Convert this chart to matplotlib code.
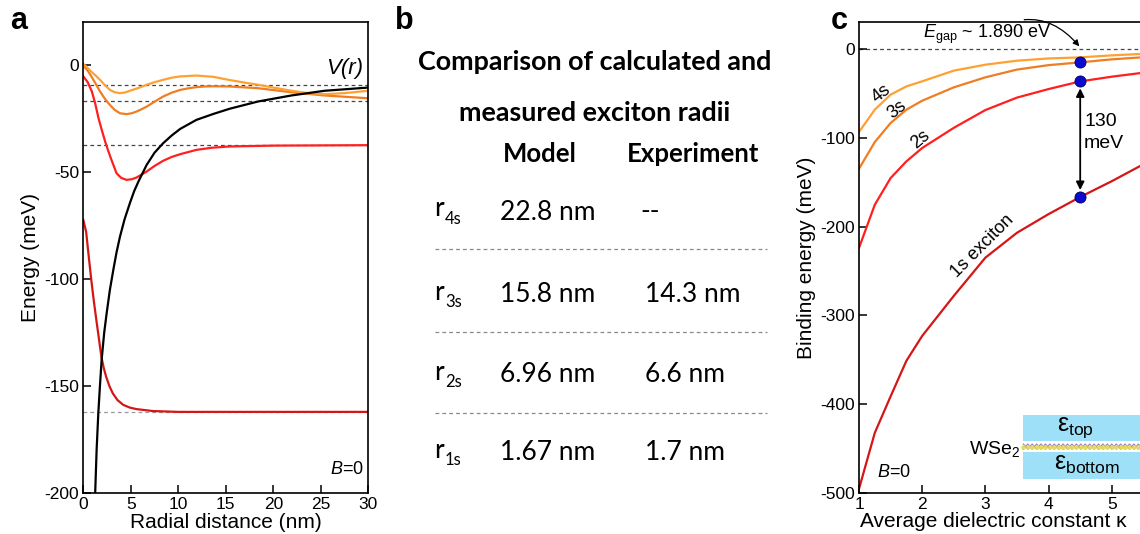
import matplotlib
matplotlib.use('Agg')
import matplotlib.pyplot as plt
import numpy as np
from matplotlib.patches import Rectangle

plt.rcParams['font.family'] = ['Liberation Sans', 'DejaVu Sans']
plt.rcParams['axes.unicode_minus'] = False
plt.rcParams['mathtext.fontset'] = 'custom'
plt.rcParams['mathtext.rm'] = 'Liberation Sans'
plt.rcParams['mathtext.it'] = 'Liberation Sans:italic'

# --- panel a: potential and radial wavefunctions ---
r_pot = [1.15, 1.25, 1.4, 1.58, 1.75, 1.93, 2.2, 2.46, 2.8, 3.16, 3.5, 3.86, 4.35, 4.9, 5.35, 5.8,
         6.67, 7.5, 8.4, 9.3, 10.2, 11.9, 13.7, 15.4, 18.4, 21.9, 25.4, 30]
v_pot = [-215, -200, -180, -162.6, -150, -137.7, -125, -115.9, -105, -95.7, -87.5, -80.2, -72, -64.6, -59, -54.5,
         -46.7, -41, -36.6, -33, -29.9, -25.7, -22.9, -20.5, -17.1, -14.3, -12.1, -10.6]

r_1s = [0, 0.3, 0.5, 0.84, 1.1, 1.37, 1.65, 1.9, 2.15, 2.4, 2.75, 3.1, 3.6, 4.2, 4.9, 5.6, 7.3, 10, 30]
psi_1s = [-72.4, -78, -86.4, -100.4, -110, -119, -128, -136.2, -141.5, -145.5, -150, -153.3, -156.5, -158.7,
          -160, -160.7, -161.6, -162, -162]

r_2s = [0, 0.45, 0.9, 1.25, 1.6, 1.95, 2.3, 2.65, 3.0, 3.5, 4.0, 4.56, 5.1, 5.6, 6.1, 6.67, 7.5, 8.4, 9.3,
        10.2, 11.9, 13.5, 15.4, 20, 30]
psi_2s = [-5.4, -8, -12.4, -18, -24.9, -30.5, -35.8, -40.5, -44.8, -50.6, -52.8, -53.7, -53.4, -52.6, -51.3,
          -49.8, -47.2, -44.8, -43, -41.7, -39.7, -38.7, -38.1, -37.7, -37.5]

r_3s = [0, 0.4, 0.8, 1.3, 1.76, 2.3, 2.8, 3.3, 3.86, 4.56, 5.1, 5.6, 6.1, 6.67, 7.5, 8.4, 9.3, 10.2, 11.0,
        11.9, 12.8, 13.7, 15.4, 18.4, 21.9, 25.4, 30]
psi_3s = [-0.5, -2.3, -5, -8.8, -12.4, -16, -18.7, -21, -22.6, -23, -22.6, -21.8, -20.8, -19.5, -17.2, -14.8,
          -13, -11.7, -11, -10.4, -10.1, -10, -10.1, -10.9, -12.8, -14.3, -15.6]

r_4s = [0, 0.4, 0.8, 1.3, 1.76, 2.3, 2.81, 3.3, 3.86, 4.4, 4.9, 5.8, 6.67, 7.5, 8.4, 9.3, 10.2, 11.9, 13.7,
        15.4, 17, 18.4, 20, 21.9, 23.5, 25.4, 27.5, 30]
psi_4s = [0.5, -1.2, -3, -5, -7, -9.6, -11.7, -12.8, -13.2, -12.9, -12.1, -10.8, -9.3, -8.1, -7, -6, -5.4,
          -5, -5.6, -7.1, -8.3, -9.3, -10.6, -12.1, -13.1, -13.7, -13.2, -12.1]

levels_a = [-162, -37.5, -17, -9.2]

# --- panel b: table ---
states = ['4s', '3s', '2s', '1s']
radius_model = ['22.8 nm', '15.8 nm', '6.96 nm', '1.67 nm']
radius_exp = ['--', '14.3 nm', '6.6 nm', '1.7 nm']

# --- panel c: binding energies vs kappa ---
kappa = [1, 1.25, 1.5, 1.75, 2, 2.5, 3, 3.5, 4, 4.5, 5, 5.5]
e_1s = [-495, -432, -391, -351, -323, -278, -235, -207, -186, -166.8, -149, -130]
e_2s = [-224, -175.5, -145.5, -126.7, -111.7, -89, -69, -55, -45.4, -36.8, -31.5, -27]
e_3s = [-135, -105, -83.6, -68.6, -58.5, -43.5, -32.2, -23.5, -18.5, -15.4, -12, -9.6]
e_4s = [-93.7, -68.6, -51.7, -42.4, -36.7, -24.7, -18, -13.5, -11, -9.8, -7.5, -5.8]
kappa_dots = [4.5, 4.5, 4.5]
e_dots = [-15.4, -36.8, -166.8]

C4S = '#FFA033'
C3S = '#F07D22'
C2S = '#FF1F1F'
C1S = '#D41616'

W, H = 1140, 534


def px_rect(left, top, right, bottom):
    return [left / W, 1 - bottom / H, (right - left) / W, (bottom - top) / H]


fig = plt.figure(figsize=(W / 100, H / 100), dpi=100)

# ---------------- panel a ----------------
ax = fig.add_axes(px_rect(83.3, 22, 368.3, 493.3))
for lv, col in zip(levels_a, ['#999999', '#444444', '#444444', '#444444']):
    ax.axhline(lv, color=col, lw=0.9, ls=(0, (3, 2.5)), zorder=1)
ax.plot(r_pot, v_pot, color='black', lw=1.6, zorder=3)
ax.plot(r_1s, psi_1s, color=C1S, lw=1.6, zorder=2)
ax.plot(r_2s, psi_2s, color=C2S, lw=1.6, zorder=2)
ax.plot(r_3s, psi_3s, color=C3S, lw=1.6, zorder=2)
ax.plot(r_4s, psi_4s, color=C4S, lw=1.6, zorder=2)
ax.set_xlim(0, 30)
ax.set_ylim(-200, 20)
ax.set_xticks([0, 5, 10, 15, 20, 25, 30])
ax.set_yticks([0, -50, -100, -150, -200])
ax.tick_params(direction='in', length=6, width=1.1, labelsize=12.5, pad=3)
for s in ax.spines.values():
    s.set_linewidth(1.2)
ax.set_xlabel('Radial distance (nm)', fontsize=15, labelpad=0.5)
ax.set_ylabel('Energy (meV)', fontsize=15, labelpad=3)
ax.text(29.5, -1.5, 'V(r)', fontsize=16, style='italic', ha='right', va='center')
ax.text(29.5, -193, '$B$=0', fontsize=13, ha='right', va='bottom')

# ---------------- panel b ----------------
axb = fig.add_axes(px_rect(380, 0, 780, 534))
axb.set_xlim(380, 780)
axb.set_ylim(534, 0)
axb.axis('off')
bfont = ['Lato', 'DejaVu Sans']
axb.text(595, 62, 'Comparison of calculated and', fontsize=19.4, fontweight='bold',
         family=bfont, ha='center', va='center')
axb.text(595, 113, 'measured exciton radii', fontsize=19.4, fontweight='bold',
         family=bfont, ha='center', va='center')
axb.text(540, 154, 'Model', fontsize=18.5, fontweight='bold', family=bfont, ha='center', va='center')
axb.text(693, 154, 'Experiment', fontsize=18.5, fontweight='bold', family=bfont, ha='center', va='center')
row_y = [212, 295, 375, 453]
for i, (st, m, e) in enumerate(zip(states, radius_model, radius_exp)):
    y = row_y[i]
    axb.text(434, y - 3, 'r', fontsize=19, family=bfont, ha='left', va='center')
    axb.text(445, y + 7, st, fontsize=12, family=bfont, ha='left', va='center')
    axb.text(500, y, m, fontsize=19, family=bfont, ha='left', va='center')
    axb.text(640 if e == '--' else 645, y, e, fontsize=19, family=bfont, ha='left', va='center')
for y in [248.5, 331.5, 412.5]:
    axb.plot([435, 767], [y, y], color='#888888', lw=0.9, ls=(0, (3, 2.5)))

# ---------------- panel c ----------------
axc = fig.add_axes(px_rect(859, 22, 859 + 5 * 63.2, 493.3))
axc.axhline(0, color='#444444', lw=0.9, ls=(0, (3, 2.5)), zorder=1)
axc.plot(kappa, e_4s, color=C4S, lw=1.6)
axc.plot(kappa, e_3s, color=C3S, lw=1.6)
axc.plot(kappa, e_2s, color=C2S, lw=1.6)
axc.plot(kappa, e_1s, color=C1S, lw=1.6)
axc.annotate('', xy=(kappa_dots[2], e_dots[2]), xytext=(kappa_dots[1], e_dots[1]),
             arrowprops=dict(arrowstyle='<|-|>', color='black', lw=1.3,
                             mutation_scale=12, shrinkA=5, shrinkB=5))
axc.plot(kappa_dots, e_dots, 'o', color='#0B0BD0', mec='#000060', mew=0.6, ms=8, zorder=5)
axc.text(4.57, -82, '130', fontsize=14, ha='left', va='center')
axc.text(4.55, -107, 'meV', fontsize=14, ha='left', va='center')
axc.annotate(r'$E_{\mathrm{gap}}$ ~ 1.890 eV', xy=(4.5, 1.5), xytext=(3.03, 16),
             fontsize=13, ha='center', va='center',
             arrowprops=dict(arrowstyle='-|>', color='black', lw=0.9, mutation_scale=9,
                             connectionstyle='arc3,rad=-0.45', shrinkA=2, shrinkB=1))
axc.text(1.35, -50, '4s', fontsize=13, rotation=38, ha='center', va='center')
axc.text(1.6, -69, '3s', fontsize=13, rotation=38, ha='center', va='center')
axc.text(1.98, -102, '2s', fontsize=13, rotation=40, ha='center', va='center')
axc.text(2.95, -222, '1s exciton', fontsize=13, rotation=45, ha='center', va='center')
axc.text(1.28, -477, '$B$=0', fontsize=13, ha='left', va='center')

# inset: dielectric sandwich around the WSe2 layer
sky = '#9EE0F8'
axc.add_patch(Rectangle((3.6, -441.5), 2.5, 29.5, color=sky, zorder=2, lw=0))
axc.add_patch(Rectangle((3.6, -484), 2.5, 31, color=sky, zorder=2, lw=0))
zx = np.arange(3.6, 6.0, 0.07)
alt = np.arange(len(zx)) % 2 == 0
axc.plot(zx, np.where(alt, -444.5, -450.5), color='#9A7FC0', lw=0.8, zorder=3)
axc.plot(zx, np.where(alt, -450.5, -444.5), color='#9A7FC0', lw=0.8, zorder=3)
axc.plot(zx, np.full(len(zx), -447.5), ls='none', marker='o', ms=2.2, color='#E6DC5A', zorder=4)
axc.text(4.42, -426, 'ε$_{\\mathrm{top}}$', fontsize=18, ha='center', va='center', zorder=5)
axc.text(4.6, -467, 'ε$_{\\mathrm{bottom}}$', fontsize=18, ha='center', va='center', zorder=5)
axc.text(3.55, -450, 'WSe$_2$', fontsize=14, ha='right', va='center')

axc.set_xlim(1, 6)
axc.set_ylim(-500, 30)
axc.set_xticks([1, 2, 3, 4, 5])
axc.set_yticks([0, -100, -200, -300, -400, -500])
axc.tick_params(direction='in', length=6, width=1.1, labelsize=12.5, pad=3)
for s in axc.spines.values():
    s.set_linewidth(1.2)
axc.spines['right'].set_visible(False)
axc.set_xlabel('Average dielectric constant κ', fontsize=15)
axc.xaxis.set_label_coords(0.424, -0.04)
axc.set_ylabel('Binding energy (meV)', fontsize=15, labelpad=3)

# panel letters
for lab, x in [('a', 10), ('b', 395), ('c', 831)]:
    fig.text(x / W, 1 - 21 / H, lab, fontsize=22, fontweight='bold', ha='left', va='center')

fig.savefig('out.png', dpi=100)
